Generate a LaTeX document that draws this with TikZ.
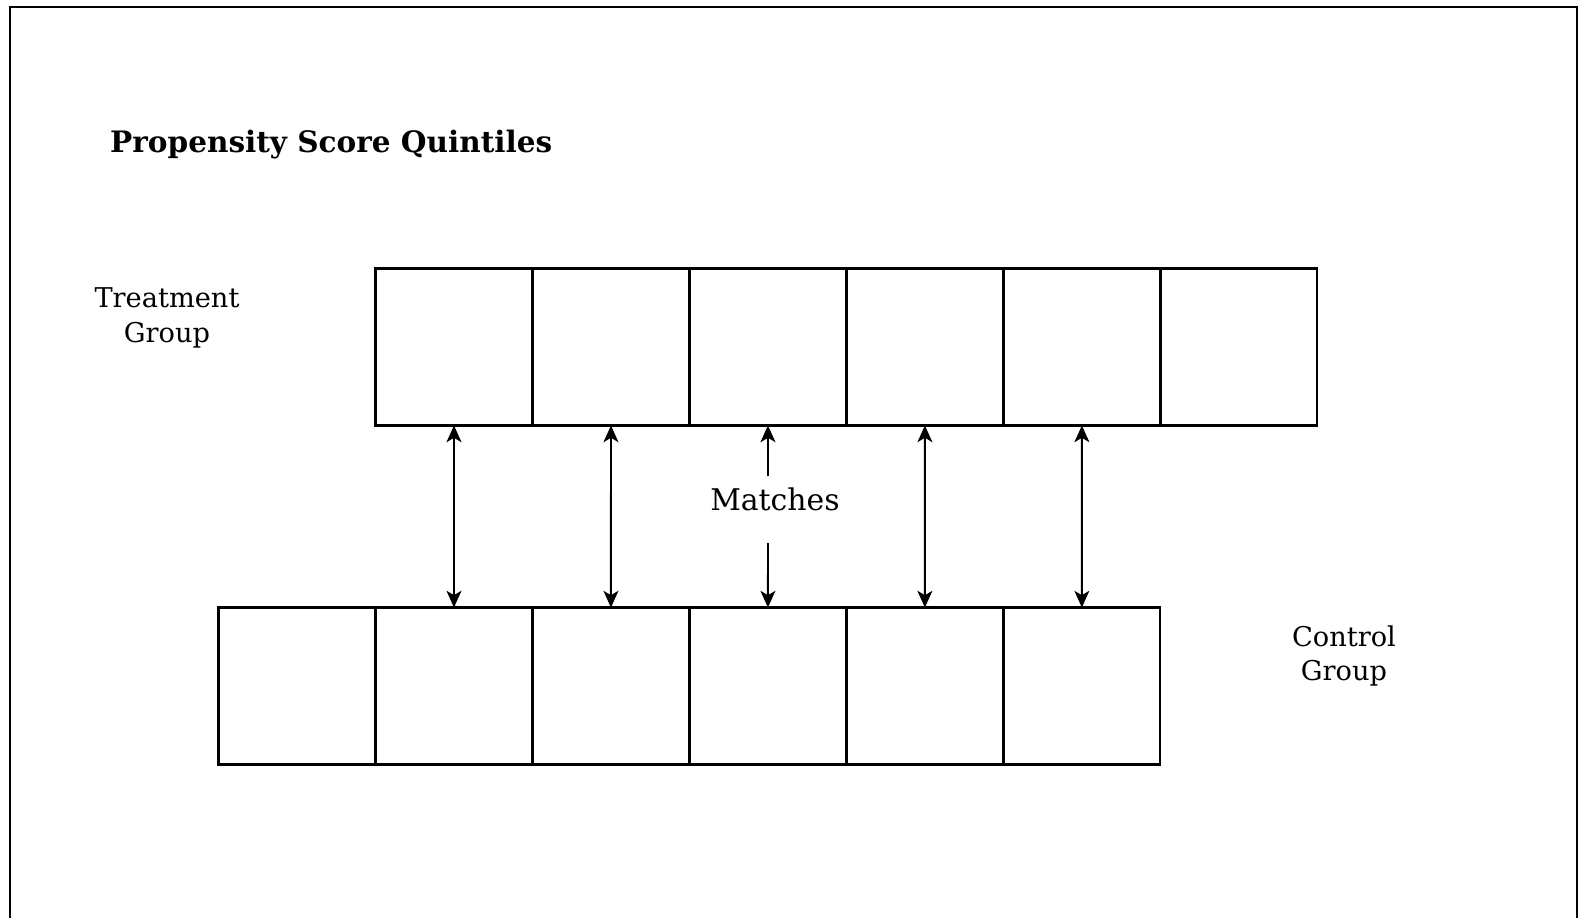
\documentclass[tikz,border=0pt]{standalone}
\usepackage{fontspec}
\setmainfont{DejaVu Serif}
\usetikzlibrary{arrows.meta,positioning}

\begin{document}
\begin{tikzpicture}[
  x=0.02cm, y=-0.02cm,
  quint/.style={draw, line width=1.3pt, outer sep=0pt, inner sep=0pt,
    minimum width=3.14cm, minimum height=3.14cm},
  grp/.style={align=center, font=\fontsize{15.5}{19.5}\selectfont},
  match/.style={<->, >={Stealth[length=9.5pt,width=8.5pt,inset=2.5pt]}, line width=1.1pt},
  node distance=0pt
]
\useasboundingbox (0,0) rectangle (1578,918);
\draw[line width=1.2pt] (10,918) -- (10,7) -- (1577,7) -- (1577,918);

\node[anchor=west, font=\fontsize{16.8}{19}\selectfont\bfseries] (title) at (104,145) {Propensity Score Quintiles};

% treatment row
\node[quint] (t1) at (454,347) {};
\node[quint, right=of t1] (t2) {};
\node[quint, right=of t2] (t3) {};
\node[quint, right=of t3] (t4) {};
\node[quint, right=of t4] (t5) {};
\node[quint, right=of t5] (t6) {};

% control row
\node[quint] (b1) at (297,686) {};
\node[quint, right=of b1] (b2) {};
\node[quint, right=of b2] (b3) {};
\node[quint, right=of b3] (b4) {};
\node[quint, right=of b4] (b5) {};
\node[quint, right=of b5] (b6) {};

\node[grp] (treat) at (167,318) {Treatment\\Group};
\node[grp] (ctrl) at (1344,656) {Control\\Group};
\node[font=\fontsize{17}{20}\selectfont] (matches) at (775,499) {Matches};

\coordinate (mup) at (768,476);
\coordinate (mdown) at (768,543);

\draw[match] (t1.south) -- (b2.north);
\draw[match] (t2.south) -- (b3.north);
\draw[match, <-] (t3.south) -- (mup);
\draw[match, ->] (mdown) -- (b4.north);
\draw[match] (t4.south) -- (b5.north);
\draw[match] (t5.south) -- (b6.north);
\end{tikzpicture}
\end{document}
